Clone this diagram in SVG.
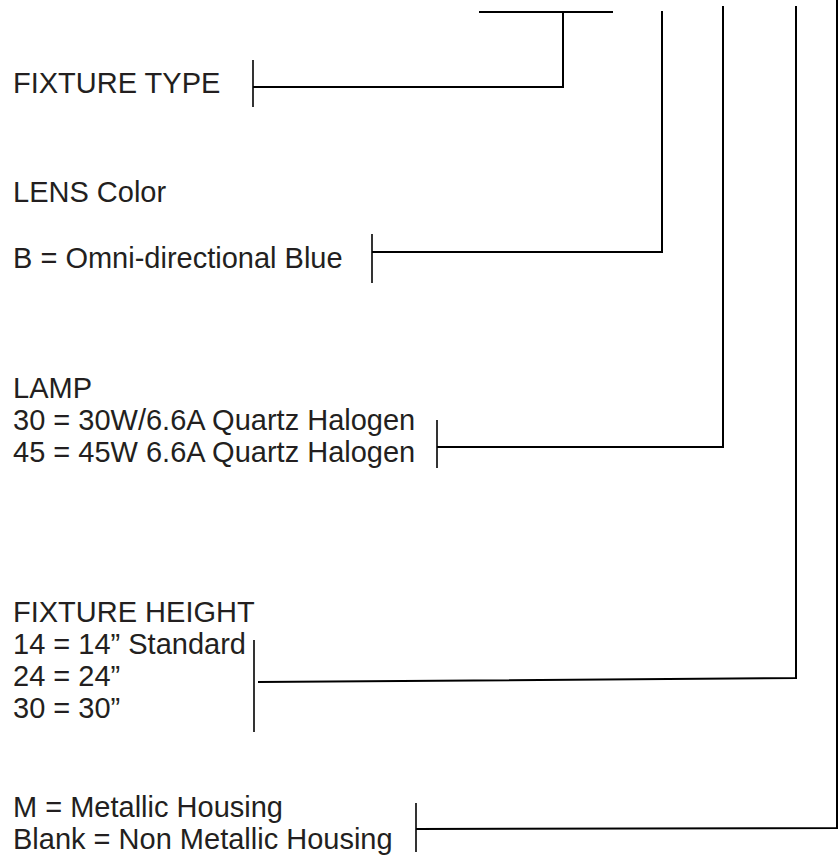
<svg xmlns="http://www.w3.org/2000/svg" width="838" height="861" viewBox="0 0 838 861">
<style>
text{font-family:"Liberation Sans",Arial,sans-serif;font-size:29px;fill:#231f20}
.ln{stroke:#000;stroke-width:2;fill:none}
.tk{stroke:#000;stroke-width:1.6;fill:none}
</style>
<rect width="838" height="861" fill="#fff"/>
<g id="connectors">
<line class="ln" x1="479" y1="12" x2="613" y2="12"/>
<polyline class="ln" points="563,12 563,87 253,87"/>
<polyline class="ln" points="662,11 662,252 372,252"/>
<polyline class="ln" points="723,6 723,447 437,447"/>
<polyline class="ln" points="796,6 796,678 258,682"/>
<polyline class="ln" points="837,0 837,828 416,829"/>
</g>
<g id="fixture-type">
<text x="13" y="93">FIXTURE TYPE</text>
<line class="tk" x1="253" y1="60" x2="253" y2="107"/>
</g>
<g id="lens-color">
<text x="13" y="202">LENS Color</text>
<text x="13" y="268">B = Omni-directional Blue</text>
<line class="tk" x1="372" y1="234" x2="372" y2="283"/>
</g>
<g id="lamp">
<text x="13" y="398">LAMP</text>
<text x="13" y="430">30 = 30W/6.6A Quartz Halogen</text>
<text x="13" y="462">45 = 45W 6.6A Quartz Halogen</text>
<line class="tk" x1="437" y1="420" x2="437" y2="468"/>
</g>
<g id="fixture-height">
<text x="13" y="622">FIXTURE HEIGHT</text>
<text x="13" y="654">14 = 14” Standard</text>
<text x="13" y="686">24 = 24”</text>
<text x="13" y="718">30 = 30”</text>
<line class="tk" x1="254" y1="640" x2="254" y2="732"/>
</g>
<g id="housing">
<text x="13" y="817">M = Metallic Housing</text>
<text x="13" y="849">Blank = Non Metallic Housing</text>
<line class="tk" x1="416" y1="803" x2="416" y2="852"/>
</g>
</svg>
